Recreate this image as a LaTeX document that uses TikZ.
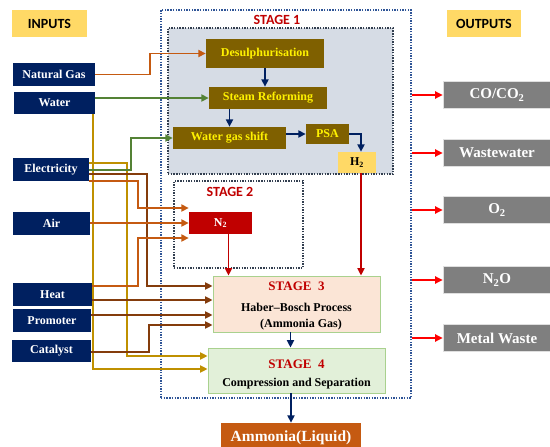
\documentclass[tikz,border=0pt]{standalone}
\usepackage{fontspec}
\setmainfont{Liberation Serif}
\newfontfamily\calfont{Carlito}
\usetikzlibrary{arrows.meta}

\definecolor{navyin}{HTML}{002060}
\definecolor{olivebox}{HTML}{7F6000}
\definecolor{goldlabel}{HTML}{FFD966}
\definecolor{grayout}{HTML}{7F7F7F}
\definecolor{ammoniabox}{HTML}{C55A11}
\definecolor{peachbox}{HTML}{FBE5D6}
\definecolor{mintbox}{HTML}{E2F0D9}
\definecolor{mintline}{HTML}{A9D18E}
\definecolor{stagefill}{HTML}{D6DCE5}
\definecolor{stagered}{HTML}{C00000}
\definecolor{framblue}{HTML}{2F5597}
\definecolor{framdark}{HTML}{333F50}
\definecolor{orangeline}{HTML}{C55A11}
\definecolor{brownline}{HTML}{843C0C}
\definecolor{goldline}{HTML}{BF9000}
\definecolor{greenline}{HTML}{548235}

\begin{document}
\begin{tikzpicture}[x=1pt,y=-1pt,
  every node/.style={inner sep=0pt},
  heading/.style={fill=goldlabel,font=\calfont\bfseries\fontsize{14}{16}\selectfont,minimum height=27pt},
  inbox/.style={fill=navyin,text=white,font=\bfseries\fontsize{12}{14}\selectfont,minimum height=23pt},
  outbox/.style={fill=grayout,draw=white!75!gray,line width=0.6pt,text=white,font=\bfseries\fontsize{15}{17}\selectfont,minimum width=108pt,minimum height=27pt},
  unit/.style={fill=olivebox,text=yellow,font=\bfseries\fontsize{12}{14}\selectfont,minimum height=22pt},
  frame/.style={draw=#1,line width=1.5pt,dash pattern=on 1.4pt off 1.3pt},
  stagelabel/.style={text=stagered,font=\calfont\bfseries\fontsize{14}{16}\selectfont},
  stagebox/.style={draw=mintline,line width=0.8pt,align=center,font=\bfseries\fontsize{12}{16}\selectfont},
  flow/.style={draw=#1,line width=1.9pt,-{Triangle[length=7.5pt,width=7pt]}}
]
\useasboundingbox (0,0) rectangle (550,447);

% frames of the plant
\node[frame=framblue,minimum width=250pt,minimum height=388pt] (plant) at (286,204) {};
\node[frame=framdark,fill=stagefill,minimum width=225pt,minimum height=146pt] (stageone) at (280.5,101) {};
\node[frame=framdark,minimum width=129pt,minimum height=87pt] (stagetwo) at (238.5,224.5) {};
\node[stagelabel] (labone) at (277,20) {STAGE 1};
\node[stagelabel] (labtwo) at (230,192) {STAGE 2};

% inputs
\node[heading,minimum width=75pt] (inputs) at (49.5,23.5) {INPUTS};
\node[inbox,minimum width=82pt] (gas) at (54,74.5) {Natural Gas};
\node[inbox,minimum width=81pt,minimum height=22pt] (water) at (54.5,103) {Water};
\node[inbox,minimum width=76pt] (elec) at (51,169.5) {Electricity};
\node[inbox,minimum width=77pt] (air) at (51.5,223.5) {Air};
\node[inbox,minimum width=79pt] (heat) at (52.5,294.5) {Heat};
\node[inbox,minimum width=78pt] (prom) at (52,320.5) {Promoter};
\node[inbox,minimum width=79pt,minimum height=22pt] (cat) at (51.5,351) {Catalyst};

% outputs
\node[heading,minimum width=74pt] (outputs) at (484,23.5) {OUTPUTS};
\node[outbox] (co) at (497,95) {CO/CO\textsubscript{2}};
\node[outbox] (wastew) at (497,153) {Wastewater};
\node[outbox] (oxy) at (497,210) {O\textsubscript{2}};
\node[outbox] (ntwoo) at (497,280) {N\textsubscript{2}O};
\node[outbox] (metal) at (497,338) {Metal Waste};

% stage units
\node[unit,minimum width=118pt,minimum height=29pt] (desul) at (265,53.5) {Desulphurisation};
\node[unit,minimum width=118pt] (steam) at (268,98) {Steam Reforming};
\node[unit,minimum width=113pt] (wgs) at (229.5,138) {Water gas shift};
\node[unit,minimum width=43pt,minimum height=20pt] (psa) at (327.5,134) {PSA};
\node[fill=goldlabel,font=\bfseries\fontsize{12}{14}\selectfont,minimum width=38pt,minimum height=21pt] (htwo) at (357,162.5) {H\textsubscript{2}};
\node[fill=stagered,text=white,font=\bfseries\fontsize{12}{14}\selectfont,minimum width=63pt,minimum height=22pt] (ntwo) at (220.5,223) {N\textsubscript{2}};
\node[stagebox,fill=peachbox,minimum width=167pt,minimum height=56pt] (haber) at (296.5,304)
  {\rule{0pt}{13pt}{\fontsize{13}{15}\selectfont\textcolor{stagered}{STAGE\ \ 3}}\\[5pt]Haber--Bosch Process\\\ \ \ (Ammonia Gas)};
\node[stagebox,fill=mintbox,minimum width=177pt,minimum height=45pt] (compr) at (296.5,370.5)
  {\rule{0pt}{17pt}{\fontsize{13}{15}\selectfont\textcolor{stagered}{STAGE\ \ 4}}\\[2pt]Compression and Separation};
\node[fill=ammoniabox,text=white,font=\bfseries\fontsize{15.5}{17}\selectfont,minimum width=140pt,minimum height=30pt] (ammonia) at (291,438) {Ammonia(Liquid)};

% flows inside the plant
\draw[flow=navyin] (desul.south) -- (desul.south |- steam.north);
\draw[flow=navyin] (wgs.north |- steam.south) -- (wgs.north);
\draw[flow=navyin] (wgs.east |- psa.west) -- (psa.west);
\draw[flow=navyin] (psa.east) -| ([xshift=4pt]htwo.north);
\draw[flow=stagered] ([xshift=4pt]htwo.south) -- ([xshift=4pt]htwo.south |- haber.north);
\draw[flow=stagered] ([xshift=8pt]ntwo.south) -- ([xshift=8pt]ntwo.south |- haber.north);
\draw[flow=navyin] ([xshift=-6pt]haber.south) -- ([xshift=-6pt]haber.south |- compr.north);
\draw[flow=navyin] (ammonia.north |- compr.south) -- (ammonia.north);

% feeds
\draw[flow=orangeline] (gas.east) -- ++(55,0) |- (desul.west);
\draw[flow=greenline] (water.east |- steam.west) -- (steam.west);
\draw[flow=goldline] ([xshift=-2pt]water.south east) |- ([yshift=1.5pt]compr.west);
\draw[flow=goldline] ([yshift=6.5pt]elec.east) -- ++(38,0) |- ([yshift=14.5pt]compr.west);
\draw[flow=greenline] ([yshift=-0.5pt]elec.east) -- ++(42,0) |- (wgs.west);
\draw[flow=brownline] ([yshift=-4.5pt]elec.east) -- ++(58,0) |- ([yshift=18pt]haber.west);
\draw[flow=orangeline] ([yshift=-11.5pt]elec.east) -- ++(49,0) |- ([yshift=15pt]ntwo.west);
\draw[flow=orangeline] (air.east |- ntwo.west) -- (ntwo.west);
\draw[flow=orangeline] ([yshift=8.5pt]heat.east) -- ++(46,0) |- ([yshift=-15pt]ntwo.west);
\draw[flow=brownline] ([yshift=-5.5pt]heat.east) -- ([yshift=4pt]haber.west);
\draw[flow=brownline] ([yshift=5.5pt]prom.east) -- ([yshift=-11pt]haber.west);
\draw[flow=brownline] ([yshift=-1pt]cat.east) -- ++(58,0) |- ([yshift=-21pt]haber.west);

% outputs
\foreach \out in {co,wastew,oxy,ntwoo,metal}
  \draw[flow=red] (plant.east |- \out.west) -- (\out.west);
\end{tikzpicture}
\end{document}
